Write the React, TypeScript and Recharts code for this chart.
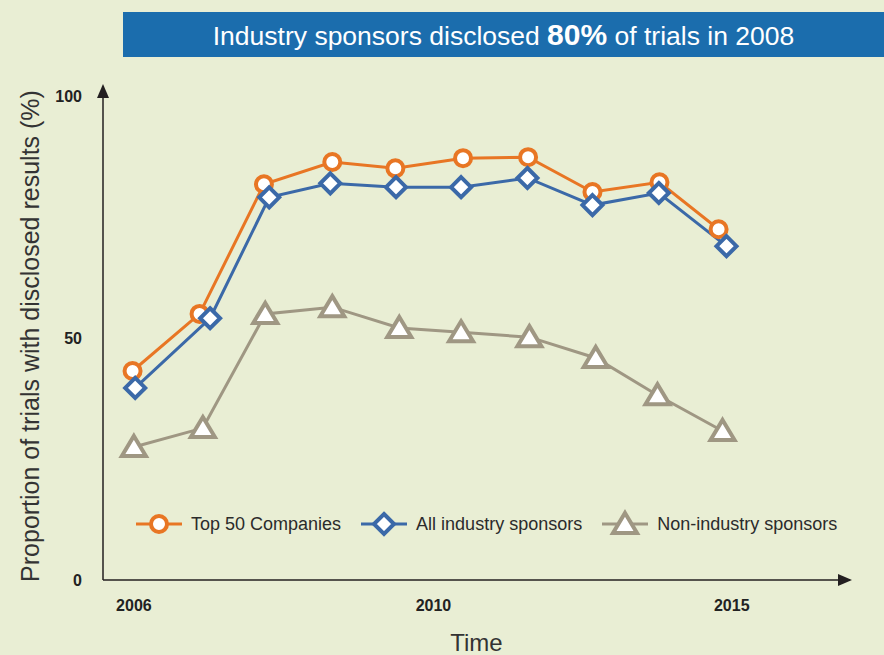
import { LineChart, Line, XAxis, YAxis, ReferenceDot } from 'recharts';

// time position of each point (one step per reporting period) and % disclosed
const yearTicks = [0, 4.56, 9.1];
const yearLabels = ['2006', '2010', '2015'];
const valueTicks = [0, 50, 100];

const top50Time = [-0.02, 1.0, 1.98, 3.02, 3.98, 5.01, 6.0, 6.98, 8.0, 8.9];
const top50Values = [43.2, 55.0, 81.8, 86.4, 85.1, 87.2, 87.4, 80.2, 82.2, 72.5];

const industryTime = [0.02, 1.16, 2.06, 2.99, 3.99, 4.98, 5.99, 6.98, 7.99, 9.02];
const industryValues = [39.7, 54.1, 79.1, 82.0, 81.2, 81.2, 83.1, 77.5, 80.0, 69.0];

const nonIndustryTime = [0.0, 1.05, 2.0, 3.02, 4.04, 4.98, 6.02, 7.03, 7.97, 8.96];
const nonIndustryValues = [27.5, 31.4, 55.0, 56.4, 52.1, 51.2, 50.2, 45.9, 38.2, 30.8];

const seriesNames = ['Top 50 Companies', 'All industry sponsors', 'Non-industry sponsors'];

const ORANGE = '#e87624';
const BLUE = '#3b69a8';
const GRAY = '#9f9783';
const AXIS = '#231f20';
const BG = '#e9eed4';
const FONT = 'Liberation Sans, Arial, sans-serif';

const xDomain = [-0.47, 10.9];
const yDomain = [0, 101.7];

const rows = (ts: number[], vs: number[]) => ts.map((t, i) => ({ t, v: vs[i] }));

const circleMark = (cx: number, cy: number, key?: any) => (
  <circle key={key} cx={cx} cy={cy} r={8} fill="#fff" stroke={ORANGE} strokeWidth={4} />
);
const diamondMark = (cx: number, cy: number, key?: any) => (
  <path key={key} d={`M${cx},${cy - 10}L${cx + 10},${cy}L${cx},${cy + 10}L${cx - 10},${cy}Z`} fill="#fff" stroke={BLUE} strokeWidth={4} />
);
const triangleMark = (cx: number, cy: number, key?: any) => (
  <path key={key} d={`M${cx},${cy - 11}L${cx + 12},${cy + 9}L${cx - 12},${cy + 9}Z`} fill="#fff" stroke={GRAY} strokeWidth={4} />
);

const marks = [circleMark, diamondMark, triangleMark];
const colors = [ORANGE, BLUE, GRAY];

function LegendBox() {
  return (
    <div style={{ position: 'absolute', left: 136, top: 509, display: 'flex', alignItems: 'center', fontFamily: FONT, fontSize: 18, color: '#2b2b2b', whiteSpace: 'nowrap' }}>
      {seriesNames.map((name, i) => (
        <div key={name} style={{ display: 'flex', alignItems: 'center', marginRight: 20 }}>
          <svg width={46} height={30}>
            <line x1={0} y1={15} x2={46} y2={15} stroke={colors[i]} strokeWidth={3} />
            {marks[i](23, 15)}
          </svg>
          <span style={{ marginLeft: 9 }}>{name}</span>
        </div>
      ))}
    </div>
  );
}

const upArrow = (props: any) => (
  <path d={`M${props.cx},${props.cy - 4}L${props.cx + 6},${props.cy + 10}L${props.cx - 6},${props.cy + 10}Z`} fill={AXIS} />
);
const rightArrow = (props: any) => (
  <path d={`M${props.cx + 2},${props.cy}L${props.cx - 12},${props.cy - 6}L${props.cx - 12},${props.cy + 6}Z`} fill={AXIS} />
);

export default function App() {
  return (
    <div style={{ position: 'absolute', left: 0, top: 0, width: 884, height: 655, background: BG, overflow: 'hidden', fontFamily: FONT }}>
      <div style={{ position: 'absolute', left: 123, top: 12, width: 761, height: 45, background: '#1b6dad', color: '#fff', display: 'flex', alignItems: 'center', justifyContent: 'center', fontSize: 26.5, zIndex: 2 }}>
        <span>
          Industry sponsors disclosed <b style={{ fontSize: 30 }}>80%</b> of trials in 2008
        </span>
      </div>
      <LineChart width={884} height={655} margin={{ top: 88, right: 34, bottom: 0, left: 0 }}>
        <XAxis
          dataKey="t"
          type="number"
          domain={xDomain}
          ticks={yearTicks}
          tickFormatter={(v: number) => yearLabels[yearTicks.indexOf(v)]}
          height={75}
          allowDataOverflow
          tickLine={false}
          tickSize={0}
          tickMargin={20}
          axisLine={{ stroke: AXIS, strokeWidth: 1.5 }}
          tick={{ fill: '#222', fontSize: 16, fontWeight: 'bold' }}
          label={{ value: 'Time', position: 'insideBottom', offset: 4, fill: '#333', fontSize: 24 }}
        />
        <YAxis
          type="number"
          domain={yDomain}
          ticks={valueTicks}
          width={103}
          allowDataOverflow
          tickLine={false}
          tickSize={0}
          tickMargin={21}
          axisLine={{ stroke: AXIS, strokeWidth: 1.5 }}
          tick={{ fill: '#222', fontSize: 16, fontWeight: 'bold' }}
          label={(props: any) => {
            const vb = props.viewBox;
            const cy = vb.y + vb.height / 2 + 2;
            return (
              <text x={30} y={cy} transform={`rotate(-90 30 ${cy})`} textAnchor="middle" dominantBaseline="central" fill="#333" fontSize={25}>
                Proportion of trials with disclosed results (%)
              </text>
            );
          }}
        />
        <Line data={rows(nonIndustryTime, nonIndustryValues)} dataKey="v" name={seriesNames[2]} stroke={GRAY} strokeWidth={3} isAnimationActive={false}
          dot={(p: any) => triangleMark(p.cx, p.cy, p.index)} activeDot={false} />
        <Line data={rows(top50Time, top50Values)} dataKey="v" name={seriesNames[0]} stroke={ORANGE} strokeWidth={3} isAnimationActive={false}
          dot={(p: any) => circleMark(p.cx, p.cy, p.index)} activeDot={false} />
        <Line data={rows(industryTime, industryValues)} dataKey="v" name={seriesNames[1]} stroke={BLUE} strokeWidth={3} isAnimationActive={false}
          dot={(p: any) => diamondMark(p.cx, p.cy, p.index)} activeDot={false} />
        <ReferenceDot x={xDomain[0]} y={yDomain[1]} ifOverflow="visible" shape={upArrow} />
        <ReferenceDot x={xDomain[1]} y={yDomain[0]} ifOverflow="visible" shape={rightArrow} />
      </LineChart>
      <LegendBox />
    </div>
  );
}
